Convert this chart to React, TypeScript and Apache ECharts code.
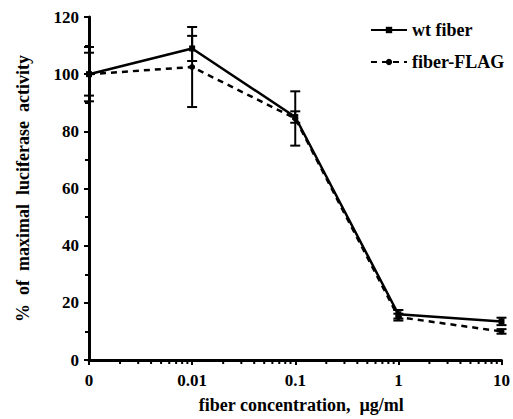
import React, { useEffect, useRef } from "react";
import * as echarts from "echarts";

// concentration (µg/ml); the "0" point is drawn at 0.001 on the log axis
const concentrations = [0.001, 0.01, 0.1, 1, 10];
const xTickLabels: Record<string, string> = { "0.001": "0", "0.01": "0.01", "0.1": "0.1", "1": "1", "10": "10" };
const yTicks = [0, 20, 40, 60, 80, 100, 120];

const wtFiber = [100, 109, 85, 16, 13.5];
const wtFiberErr = [7.5, 4.4, 2, 1.5, 1.3];
const fiberFlag = [100, 102.5, 84.5, 15, 10];
const fiberFlagErr = [9.5, 14, 9.5, 1.2, 0.8];

// log minor tick positions
const minorTicks: number[] = [];
for (let d = -3; d <= 0; d++) {
  for (let k = 2; k <= 9; k++) minorTicks.push(k * Math.pow(10, d));
}

const FONT = "Liberation Serif";

export default function App() {
  const ref = useRef<HTMLDivElement>(null);
  useEffect(() => {
    if (!ref.current) return;
    const chart = echarts.init(ref.current, null, { renderer: "svg" });

    const errData = (vals: number[], errs: number[]) =>
      vals.map((v, i) => [concentrations[i], v - errs[i], v + errs[i]]);

    const errRender = (params: any, api: any) => {
      const x = api.value(0);
      const lo = api.coord([x, api.value(1)]);
      const hi = api.coord([x, api.value(2)]);
      const hw = 5;
      const style = { stroke: "#000", lineWidth: 2, fill: "none" };
      return {
        type: "group",
        children: [
          { type: "line", shape: { x1: lo[0], y1: lo[1], x2: hi[0], y2: hi[1] }, style },
          { type: "line", shape: { x1: lo[0] - hw, y1: lo[1], x2: lo[0] + hw, y2: lo[1] }, style },
          { type: "line", shape: { x1: hi[0] - hw, y1: hi[1], x2: hi[0] + hw, y2: hi[1] }, style },
        ],
      };
    };

    chart.setOption({
      animation: false,
      backgroundColor: "#fff",
      grid: { left: 89, top: 17, width: 419, height: 343 },
      legend: {
        orient: "vertical",
        left: 370,
        top: 21,
        padding: 0,
        itemWidth: 36,
        itemHeight: 8,
        itemGap: 14,
        textStyle: { fontFamily: FONT, fontWeight: "bold", fontSize: 18, color: "#000" },
        data: ["wt fiber", "fiber-FLAG"],
      },
      xAxis: {
        type: "log",
        logBase: 10,
        min: 0.001,
        max: 10,
        name: "fiber concentration,  µg/ml",
        nameLocation: "middle",
        nameGap: 36,
        nameTextStyle: {
          fontFamily: FONT,
          fontWeight: "bold",
          fontSize: 18,
          color: "#000",
          padding: [0, 0, 0, 12],
        },
        axisLine: { lineStyle: { color: "#000", width: 3 } },
        axisTick: { show: true, length: 5, lineStyle: { color: "#000", width: 2 } },
        axisLabel: {
          margin: 12,
          fontFamily: FONT,
          fontWeight: "bold",
          fontSize: 17,
          color: "#000",
          formatter: (v: number) => xTickLabels[String(v)] ?? String(v),
        },
        splitLine: { show: false },
      },
      yAxis: {
        type: "value",
        min: 0,
        max: 120,
        interval: 20,
        name: "%  of  maximal  luciferase  activity",
        nameLocation: "middle",
        nameGap: 57,
        nameTextStyle: { fontFamily: FONT, fontWeight: "bold", fontSize: 18, color: "#000" },
        axisLine: { show: true, lineStyle: { color: "#000", width: 3 } },
        axisTick: { show: true, length: 5, lineStyle: { color: "#000", width: 2 } },
        minorTick: { show: true, splitNumber: 2, length: 4, lineStyle: { color: "#000", width: 2 } },
        axisLabel: {
          margin: 10,
          fontFamily: FONT,
          fontWeight: "bold",
          fontSize: 17,
          color: "#000",
          formatter: (v: number) => (yTicks.includes(v) ? String(v) : ""),
        },
        splitLine: { show: false },
      },
      series: [
        {
          name: "wt fiber",
          type: "line",
          data: concentrations.map((c, i) => [c, wtFiber[i]]),
          symbol: "rect",
          symbolSize: 6,
          lineStyle: { color: "#000", width: 2.5, type: "solid" },
          itemStyle: { color: "#000" },
          z: 3,
        },
        {
          name: "fiber-FLAG",
          type: "line",
          data: concentrations.map((c, i) => [c, fiberFlag[i]]),
          symbol: "circle",
          symbolSize: 6,
          lineStyle: { color: "#000", width: 2.5, type: [6, 5] },
          itemStyle: { color: "#000" },
          z: 3,
        },
        {
          type: "custom",
          renderItem: errRender,
          data: errData(wtFiber, wtFiberErr),
          clip: false,
          z: 4,
        },
        {
          type: "custom",
          renderItem: errRender,
          data: errData(fiberFlag, fiberFlagErr),
          clip: false,
          z: 4,
        },
        {
          type: "custom",
          clip: false,
          data: minorTicks.map((t) => [t, 0]),
          renderItem: (params: any, api: any) => {
            const p = api.coord([api.value(0), 0]);
            return {
              type: "line",
              shape: { x1: p[0], y1: p[1], x2: p[0], y2: p[1] + 4 },
              style: { stroke: "#000", lineWidth: 2 },
            };
          },
          silent: true,
          z: 2,
        },
      ],
    });
    return () => chart.dispose();
  }, []);

  return (
    <div
      ref={ref}
      style={{ position: "fixed", left: 0, top: 0, width: 513, height: 419, background: "#fff" }}
    />
  );
}
